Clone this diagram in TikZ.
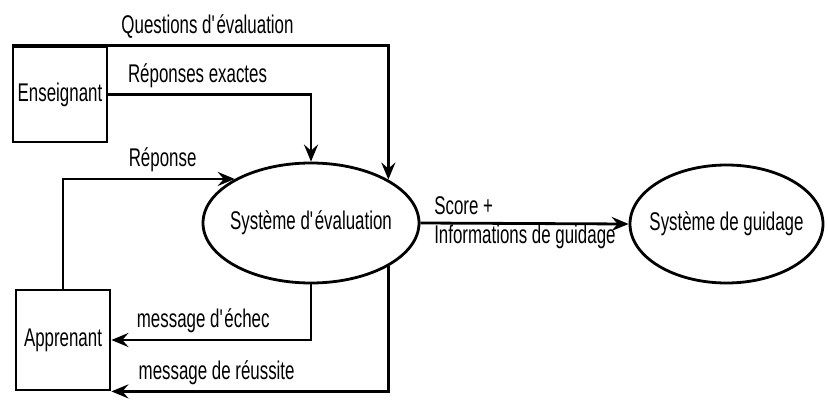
\documentclass[tikz,border=0pt]{standalone}
\usepackage{fontspec}
\setmainfont[FakeStretch=0.66]{Liberation Sans}
\usetikzlibrary{shapes.geometric,arrows.meta}

\begin{document}
\begin{tikzpicture}[x=0.5pt,y=-0.5pt,
			line width=1.4pt,
			font=\fontsize{12.8}{14.5}\selectfont,
			flow/.style={-{Stealth[length=8.5pt,width=7pt,inset=3pt]}},
			actor/.style={draw,rectangle,minimum width=47pt,inner sep=0pt},
			process/.style={draw,ellipse,inner sep=0pt},
			lbl/.style={inner sep=0pt,text depth=0pt}]
			\useasboundingbox (0,0) rectangle (828,401);
			\node (ens) [actor,minimum height=47.5pt] at (60,94.5) {Enseignant};
			\node (app) [actor,minimum height=50pt] at (63,340) {Apprenant};
			\node (eval) [process,minimum width=108pt,minimum height=60pt,
				label=center:Système d\textquotesingle{}évaluation] at (311,223) {};
			\node (guid) [process,minimum width=96.5pt,minimum height=59pt,
				label=center:Système de guidage] at (726.5,224) {};

			\draw[flow] (ens.north west) -| node[lbl,above=5.5pt,pos=0.26] {Questions d\textquotesingle{}évaluation} (eval.north east);
			\draw[flow] (ens.east) -| node[lbl,above=5.5pt,pos=0.22] {Réponses exactes} (eval.north);
			\draw[flow] (app.north) |- node[lbl,above=5.5pt,pos=0.79] {Réponse} (eval.150);
			\draw[flow] (eval.south) |- node[lbl,above=5.5pt,pos=0.77] {message d\textquotesingle{}échec} (app.east);
			\draw[flow] (eval.south east) |- node[lbl,above=5.5pt,pos=0.81] {message de réussite} (app.south east);
			\draw[flow] (eval.east) -- node[inner sep=0pt,anchor=west,align=left,pos=0.06] {Score +\\Informations de guidage} (guid.west);
		\end{tikzpicture}
\end{document}
